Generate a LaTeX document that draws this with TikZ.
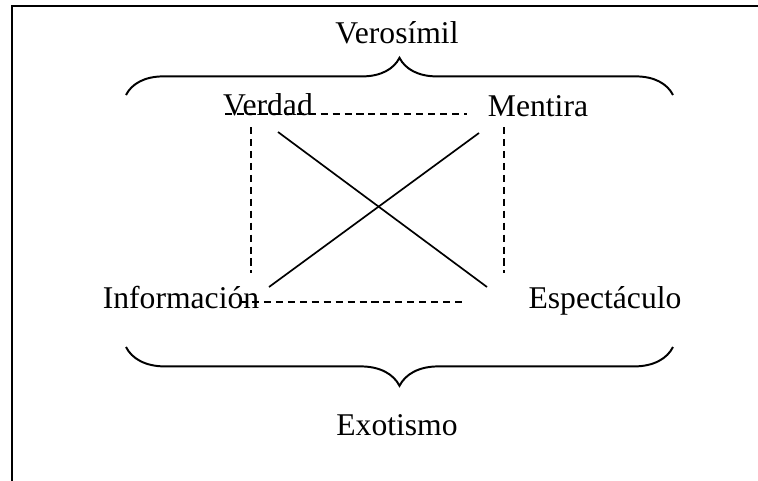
\documentclass[tikz,border=0pt]{standalone}
\usepackage{fontspec}
\setmainfont{Liberation Serif}
\usetikzlibrary{decorations.pathreplacing,calc}

\begin{document}
\begin{tikzpicture}[x=0.025cm,y=-0.025cm,
  lbl/.style={inner sep=0pt,anchor=base,font=\fontsize{22.5}{27}\selectfont},
  brc/.style={decorate,decoration={brace,amplitude=#1},line width=1.4pt},
  dsh/.style={dash pattern=on 5pt off 3.5pt,line width=1.1pt},
  crs/.style={line width=1.2pt}]
\useasboundingbox (0,0) rectangle (758,481);
% frame
\draw[line width=1.4pt] (12,481) -- (12,6) -- (758,6);

% labels
\node[lbl] (veros)   at (397,43)  {Verosímil};
\node[lbl] (verdad)  at (268,115) {Verdad};
\node[lbl] (mentira) at (538,116) {Mentira};
\node[lbl] (info)    at (181,308) {Información};
\node[lbl] (espect)  at (605,308) {Espectáculo};
\node[lbl] (exot)    at (397,435) {Exotismo};

% brace ends
\coordinate (vl) at (126,95);
\coordinate (vr) at (673,95);
\coordinate (el) at (126,347);
\coordinate (er) at (673,347);
\draw[brc=0.93cm] (vl) -- (vr);
\draw[brc=0.97cm] (er) -- (el);

% ends of the square
\coordinate (t1) at (225,114);
\coordinate (t2) at (467,114);
\coordinate (b1) at (240,302);
\coordinate (b2) at (466,302);
\coordinate (l1) at (251,127);
\coordinate (l2) at (251,273);
\coordinate (r1) at (504,127);
\coordinate (r2) at (504,273);
\draw[dsh] (t1) -- (t2);
\draw[dsh] (b1) -- (b2);
\draw[dsh] (l1) -- (l2);
\draw[dsh] (r1) -- (r2);

% diagonals
\coordinate (d1) at (278,132);
\coordinate (d2) at (487,287);
\coordinate (d3) at (269,287);
\coordinate (d4) at (479,133);
\draw[crs] (d1) -- (d2);
\draw[crs] (d3) -- (d4);
\end{tikzpicture}
\end{document}
